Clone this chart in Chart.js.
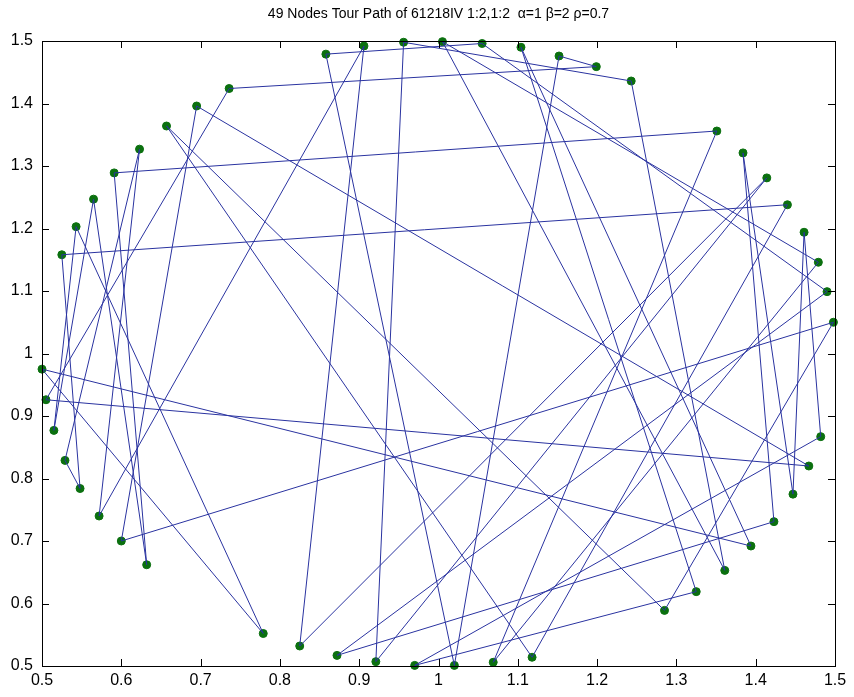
<!DOCTYPE html>
<html>
<head>
<meta charset="utf-8">
<script src="https://cdn.jsdelivr.net/npm/chart.js@4.4.0/dist/chart.umd.min.js"></script>
<style>
  html, body { margin: 0; padding: 0; background: #fff; }
</style>
</head>
<body>
<canvas id="myChart" width="854" height="697"></canvas>
<script>
// tour order (closed back to the first node)
var nodeX = [1.498, 0.600, 0.695, 1.467, 0.505, 0.736, 1.199, 1.152, 1.020, 0.858,
             1.055, 1.490, 0.872, 1.423, 1.384, 1.447, 1.461, 1.482, 0.970, 1.325,
             1.104, 1.394, 0.500, 0.779, 0.543, 0.515, 0.565, 0.632, 0.591, 1.351,
             1.069, 1.479, 1.005, 1.361, 1.243, 0.956, 0.921, 1.414, 0.825, 0.906,
             0.572, 0.623, 0.529, 0.548, 0.525, 1.440, 1.118, 0.657, 1.285];
var nodeY = [1.050, 0.700, 1.396, 0.820, 0.926, 1.424, 1.459, 1.476, 0.501, 1.479,
             1.496, 1.099, 0.517, 0.731, 1.321, 0.775, 1.194, 0.867, 0.501, 0.619,
             1.490, 0.692, 0.975, 0.552, 1.203, 0.877, 1.247, 0.662, 1.289, 1.356,
             0.506, 1.146, 1.499, 0.653, 1.436, 1.498, 0.507, 1.281, 0.532, 1.492,
             0.740, 1.327, 0.829, 0.784, 1.158, 1.238, 0.514, 1.364, 0.589];
var xTicks = [0.5, 0.6, 0.7, 0.8, 0.9, 1.0, 1.1, 1.2, 1.3, 1.4, 1.5];
var yTicks = [0.5, 0.6, 0.7, 0.8, 0.9, 1.0, 1.1, 1.2, 1.3, 1.4, 1.5];
var titleText = '49 Nodes Tour Path of 61218IV 1:2,1:2  \u03b1=1 \u03b2=2 \u03c1=0.7';

var pts = nodeX.map(function (x, i) { return { x: x, y: nodeY[i] }; });
var tour = pts.concat([pts[0]]);

function fmt(v) { return String(Number(v.toFixed(1))); }

// matlab style box with ticks pointing inwards, title centred on the axes
var boxPlugin = {
  id: 'box',
  afterDraw: function (chart) {
    var c = chart.ctx, a = chart.chartArea;
    var sx = chart.scales.x, sy = chart.scales.y;
    c.save();
    c.strokeStyle = '#000';
    c.lineWidth = 1;
    c.strokeRect(a.left + 0.5, a.top + 0.5, a.right - a.left, a.bottom - a.top);
    c.beginPath();
    xTicks.forEach(function (v) {
      var p = Math.round(sx.getPixelForValue(v)) + 0.5;
      c.moveTo(p, a.bottom); c.lineTo(p, a.bottom - 7);
      c.moveTo(p, a.top); c.lineTo(p, a.top + 7);
    });
    yTicks.forEach(function (v) {
      var p = Math.round(sy.getPixelForValue(v)) + 0.5;
      c.moveTo(a.left, p); c.lineTo(a.left + 7, p);
      c.moveTo(a.right, p); c.lineTo(a.right - 7, p);
    });
    c.stroke();
    c.fillStyle = '#000';
    c.font = '14px "Liberation Sans"';
    c.textAlign = 'center';
    c.textBaseline = 'middle';
    c.fillText(titleText, (a.left + a.right) / 2, 14);
    c.restore();
  }
};

var ctx = document.getElementById('myChart').getContext('2d');
var myChart = new Chart(ctx, {
  type: 'scatter',
  data: {
    datasets: [
      {
        data: tour,
        showLine: true,
        borderColor: '#2a33a0',
        borderWidth: 1,
        pointRadius: 0,
        clip: false
      },
      {
        data: pts,
        showLine: false,
        pointRadius: 4,
        pointBackgroundColor: '#0b700f',
        pointBorderColor: '#0b700f',
        pointBorderWidth: 1,
        clip: false
      }
    ]
  },
  plugins: [boxPlugin],
  options: {
    responsive: false,
    animation: false,
    layout: { padding: { left: 0, right: 19, top: 41, bottom: 0 } },
    plugins: {
      legend: { display: false },
      tooltip: { enabled: false },
      title: { display: false }
    },
    scales: {
      x: {
        type: 'linear',
        min: 0.5, max: 1.5,
        afterBuildTicks: function (s) { s.ticks = xTicks.map(function (v) { return { value: v }; }); },
        afterFit: function (s) { s.height = 31; },
        grid: { display: false, drawTicks: false },
        border: { display: false },
        ticks: {
          color: '#000', padding: 5, maxRotation: 0,
          font: { family: 'Liberation Sans', size: 16 },
          callback: fmt
        }
      },
      y: {
        type: 'linear',
        min: 0.5, max: 1.5,
        afterBuildTicks: function (s) { s.ticks = yTicks.map(function (v) { return { value: v }; }); },
        afterFit: function (s) { s.width = 42; },
        grid: { display: false, drawTicks: false },
        border: { display: false },
        ticks: {
          color: '#000', padding: 9,
          font: { family: 'Liberation Sans', size: 16 },
          callback: fmt
        }
      }
    }
  }
});
</script>
</body>
</html>
